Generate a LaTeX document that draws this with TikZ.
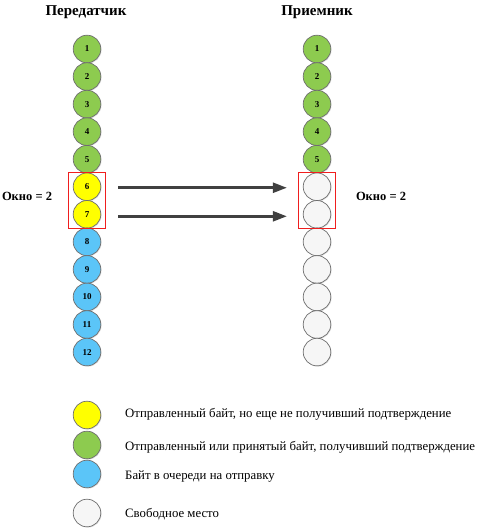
\documentclass[tikz,border=0pt]{standalone}
\usepackage{fontspec}
\setmainfont{Liberation Serif}
\usetikzlibrary{shadows,fit,arrows.meta}
\definecolor{cgreen}{HTML}{8DCB4F}
\definecolor{cyellow}{HTML}{FFFF00}
\definecolor{cblue}{HTML}{5BC5F8}
\definecolor{cwhite}{HTML}{F6F6F6}
\definecolor{cborder}{HTML}{6E6E6E}
\definecolor{carrow}{HTML}{404040}
\definecolor{cred}{HTML}{F01E1E}
\begin{document}
\begin{tikzpicture}[x=1pt,y=-1pt,
  ball/.style={circle,draw=cborder,line width=0.7pt,minimum size=27.6pt,inner sep=0pt,
    font=\fontsize{9}{10}\selectfont\bfseries,
    drop shadow={opacity=0.25,shadow xshift=0.8pt,shadow yshift=-0.8pt}},
  gball/.style={ball,fill=cgreen},
  yball/.style={ball,fill=cyellow},
  bball/.style={ball,fill=cblue},
  wball/.style={ball,fill=cwhite},
  title/.style={font=\fontsize{15}{17}\selectfont\bfseries},
  wlabel/.style={font=\fontsize{12.5}{14}\selectfont\bfseries},
  legtext/.style={anchor=west,font=\fontsize{12.8}{14}\selectfont,inner sep=0pt},
  winbox/.style={draw=cred,line width=1.3pt,inner xsep=4.5pt,inner ysep=0.3pt},
  arr/.style={draw=carrow,line width=2.5pt,-{Triangle[length=14pt,width=10pt]}}
]
\useasboundingbox (0,0) rectangle (480,529);
\node[title] (tl) at (86,12) {Передатчик};
\node[title] (tr) at (317,12) {Приемник};
\foreach \i in {1,...,5} {
  \node[gball] (L\i) at (87,{49+(\i-1)*27.55}) {\i};
  \node[gball] (R\i) at (317,{49+(\i-1)*27.55}) {\i};
}
\foreach \i in {6,7} {
  \node[yball] (L\i) at (87,{49+(\i-1)*27.55}) {\i};
}
\foreach \i in {8,...,12} {
  \node[bball] (L\i) at (87,{49+(\i-1)*27.55}) {\i};
}
\foreach \i in {6,...,12} {
  \node[wball] (R\i) at (317,{49+(\i-1)*27.55}) {};
}
\node[winbox,fit=(L6)(L7)] (wl) {};
\node[winbox,fit=(R6)(R7)] (wr) {};
\node[wlabel] (ol) at (27,196) {Окно = 2};
\node[wlabel] (or) at (381,196) {Окно = 2};
\draw[arr,shorten <=17pt,shorten >=16pt] ([yshift=-1pt]L6.east) -- ([yshift=-1pt]R6.west);
\draw[arr,shorten <=17pt,shorten >=16pt] ([yshift=-2pt]L7.east) -- ([yshift=-2pt]R7.west);
% legend
\node[yball] (k1) at (87,415) {};
\node[gball] (k2) at (87,445) {};
\node[bball] (k3) at (87,474) {};
\node[wball] (k4) at (87,513) {};
\node[legtext] (t1) at (125,414) {Отправленный байт, но еще не получивший подтверждение};
\node[legtext] (t2) at (125,447) {Отправленный или принятый байт, получивший подтверждение};
\node[legtext] (t3) at (125,476) {Байт в очереди на отправку};
\node[legtext] (t4) at (125,514) {Свободное место};
\end{tikzpicture}
\end{document}
